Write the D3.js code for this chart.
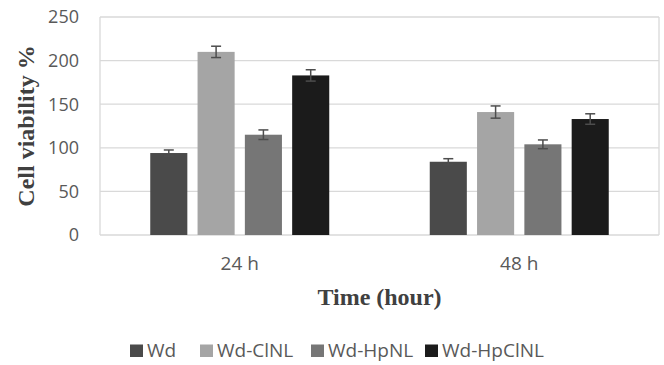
<!DOCTYPE html>
<html>
<head>
<meta charset="utf-8">
<script src="https://cdn.jsdelivr.net/npm/d3@7"></script>
<style>
  body { margin: 0; background: #fff; }
  svg { display: block; }
</style>
</head>
<body>
<div id="chart"></div>
<script>
// data
const times = ["24 h", "48 h"];
const groups = ["Wd", "Wd-ClNL", "Wd-HpNL", "Wd-HpClNL"];
const values = {
  "Wd": [94, 84],
  "Wd-ClNL": [210, 141],
  "Wd-HpNL": [115, 104],
  "Wd-HpClNL": [183, 133]
};
const errors = {
  "Wd": [3.5, 3.5],
  "Wd-ClNL": [6.5, 7],
  "Wd-HpNL": [5.5, 5],
  "Wd-HpClNL": [6.5, 6]
};
const colors = ["#4a4a4a", "#a5a5a5", "#767676", "#1b1b1b"];
const yTicks = [0, 50, 100, 150, 200, 250];

const W = 664, H = 365;
const margin = { top: 17, right: 5, bottom: 130, left: 100 };
const width = W - margin.left - margin.right;
const height = H - margin.top - margin.bottom;
const groupSpan = 179;

const svg = d3.select("#chart").append("svg")
  .attr("width", W).attr("height", H);

const g = svg.append("g")
  .attr("transform", `translate(${margin.left},${margin.top})`);

const x0 = d3.scaleBand().domain(times).range([0, width]);
const x1 = d3.scaleBand().domain(groups).range([0, groupSpan]).paddingInner(0.216);
const y = d3.scaleLinear().domain([0, 250]).range([height, 0]);

// gridlines
g.selectAll(".grid")
  .data(yTicks)
  .join("line")
  .attr("x1", 0).attr("x2", width)
  .attr("y1", d => y(d)).attr("y2", d => y(d))
  .attr("stroke", "#d9d9d9").attr("stroke-width", 1.3);

// side borders
[0, width].forEach(xx => {
  g.append("line")
    .attr("x1", xx).attr("x2", xx).attr("y1", 0).attr("y2", height)
    .attr("stroke", "#d9d9d9").attr("stroke-width", 1.3);
});

// y axis labels
g.selectAll(".ylab")
  .data(yTicks)
  .join("text")
  .attr("x", -21).attr("y", d => y(d))
  .attr("dy", "0.35em")
  .attr("text-anchor", "end")
  .attr("font-family", "Open Sans")
  .attr("font-size", 18)
  .attr("fill", "#595959")
  .text(d => d);

// bars
const grp = g.selectAll(".grp")
  .data(times)
  .join("g")
  .attr("transform", d => `translate(${x0(d) + x0.bandwidth() / 2 - groupSpan / 2},0)`);

grp.each(function (t, ti) {
  const sel = d3.select(this);
  groups.forEach((name, i) => {
    const v = values[name][ti];
    const e = errors[name][ti];
    const cx = x1(name) + x1.bandwidth() / 2;
    sel.append("rect")
      .attr("x", x1(name))
      .attr("y", y(v))
      .attr("width", x1.bandwidth())
      .attr("height", height - y(v))
      .attr("fill", colors[i]);
    // error bar
    sel.append("line")
      .attr("x1", cx).attr("x2", cx)
      .attr("y1", y(v + e)).attr("y2", y(v - e))
      .attr("stroke", "#4d4d4d").attr("stroke-width", 1.5);
    [v + e, v - e].forEach(ev => {
      sel.append("line")
        .attr("x1", cx - 5).attr("x2", cx + 5)
        .attr("y1", y(ev)).attr("y2", y(ev))
        .attr("stroke", "#4d4d4d").attr("stroke-width", 1.5);
    });
  });
});

// x category labels
g.selectAll(".xlab")
  .data(times)
  .join("text")
  .attr("x", d => x0(d) + x0.bandwidth() / 2)
  .attr("y", height + 35)
  .attr("text-anchor", "middle")
  .attr("font-family", "Open Sans")
  .attr("font-size", 19)
  .attr("fill", "#595959")
  .text(d => d);

// axis titles
svg.append("text")
  .attr("x", margin.left + width / 2)
  .attr("y", 305)
  .attr("text-anchor", "middle")
  .attr("font-family", "Liberation Serif")
  .attr("font-weight", "bold")
  .attr("font-size", 24)
  .attr("fill", "#404040")
  .text("Time (hour)");

svg.append("text")
  .attr("transform", "translate(34,126) rotate(-90)")
  .attr("text-anchor", "middle")
  .attr("font-family", "Liberation Serif")
  .attr("font-weight", "bold")
  .attr("font-size", 24)
  .attr("fill", "#404040")
  .text("Cell viability %");

// legend
const legendX = [130, 200, 311, 425];
const legend = svg.selectAll(".leg")
  .data(groups)
  .join("g")
  .attr("transform", (d, i) => `translate(${legendX[i]},357)`);

legend.append("rect")
  .attr("x", 0).attr("y", -12.5)
  .attr("width", 13).attr("height", 12.5)
  .attr("fill", (d, i) => colors[i]);

legend.append("text")
  .attr("x", 17).attr("y", 0)
  .attr("font-family", "Open Sans")
  .attr("font-size", 19)
  .attr("fill", "#595959")
  .text(d => d);
</script>
</body>
</html>
